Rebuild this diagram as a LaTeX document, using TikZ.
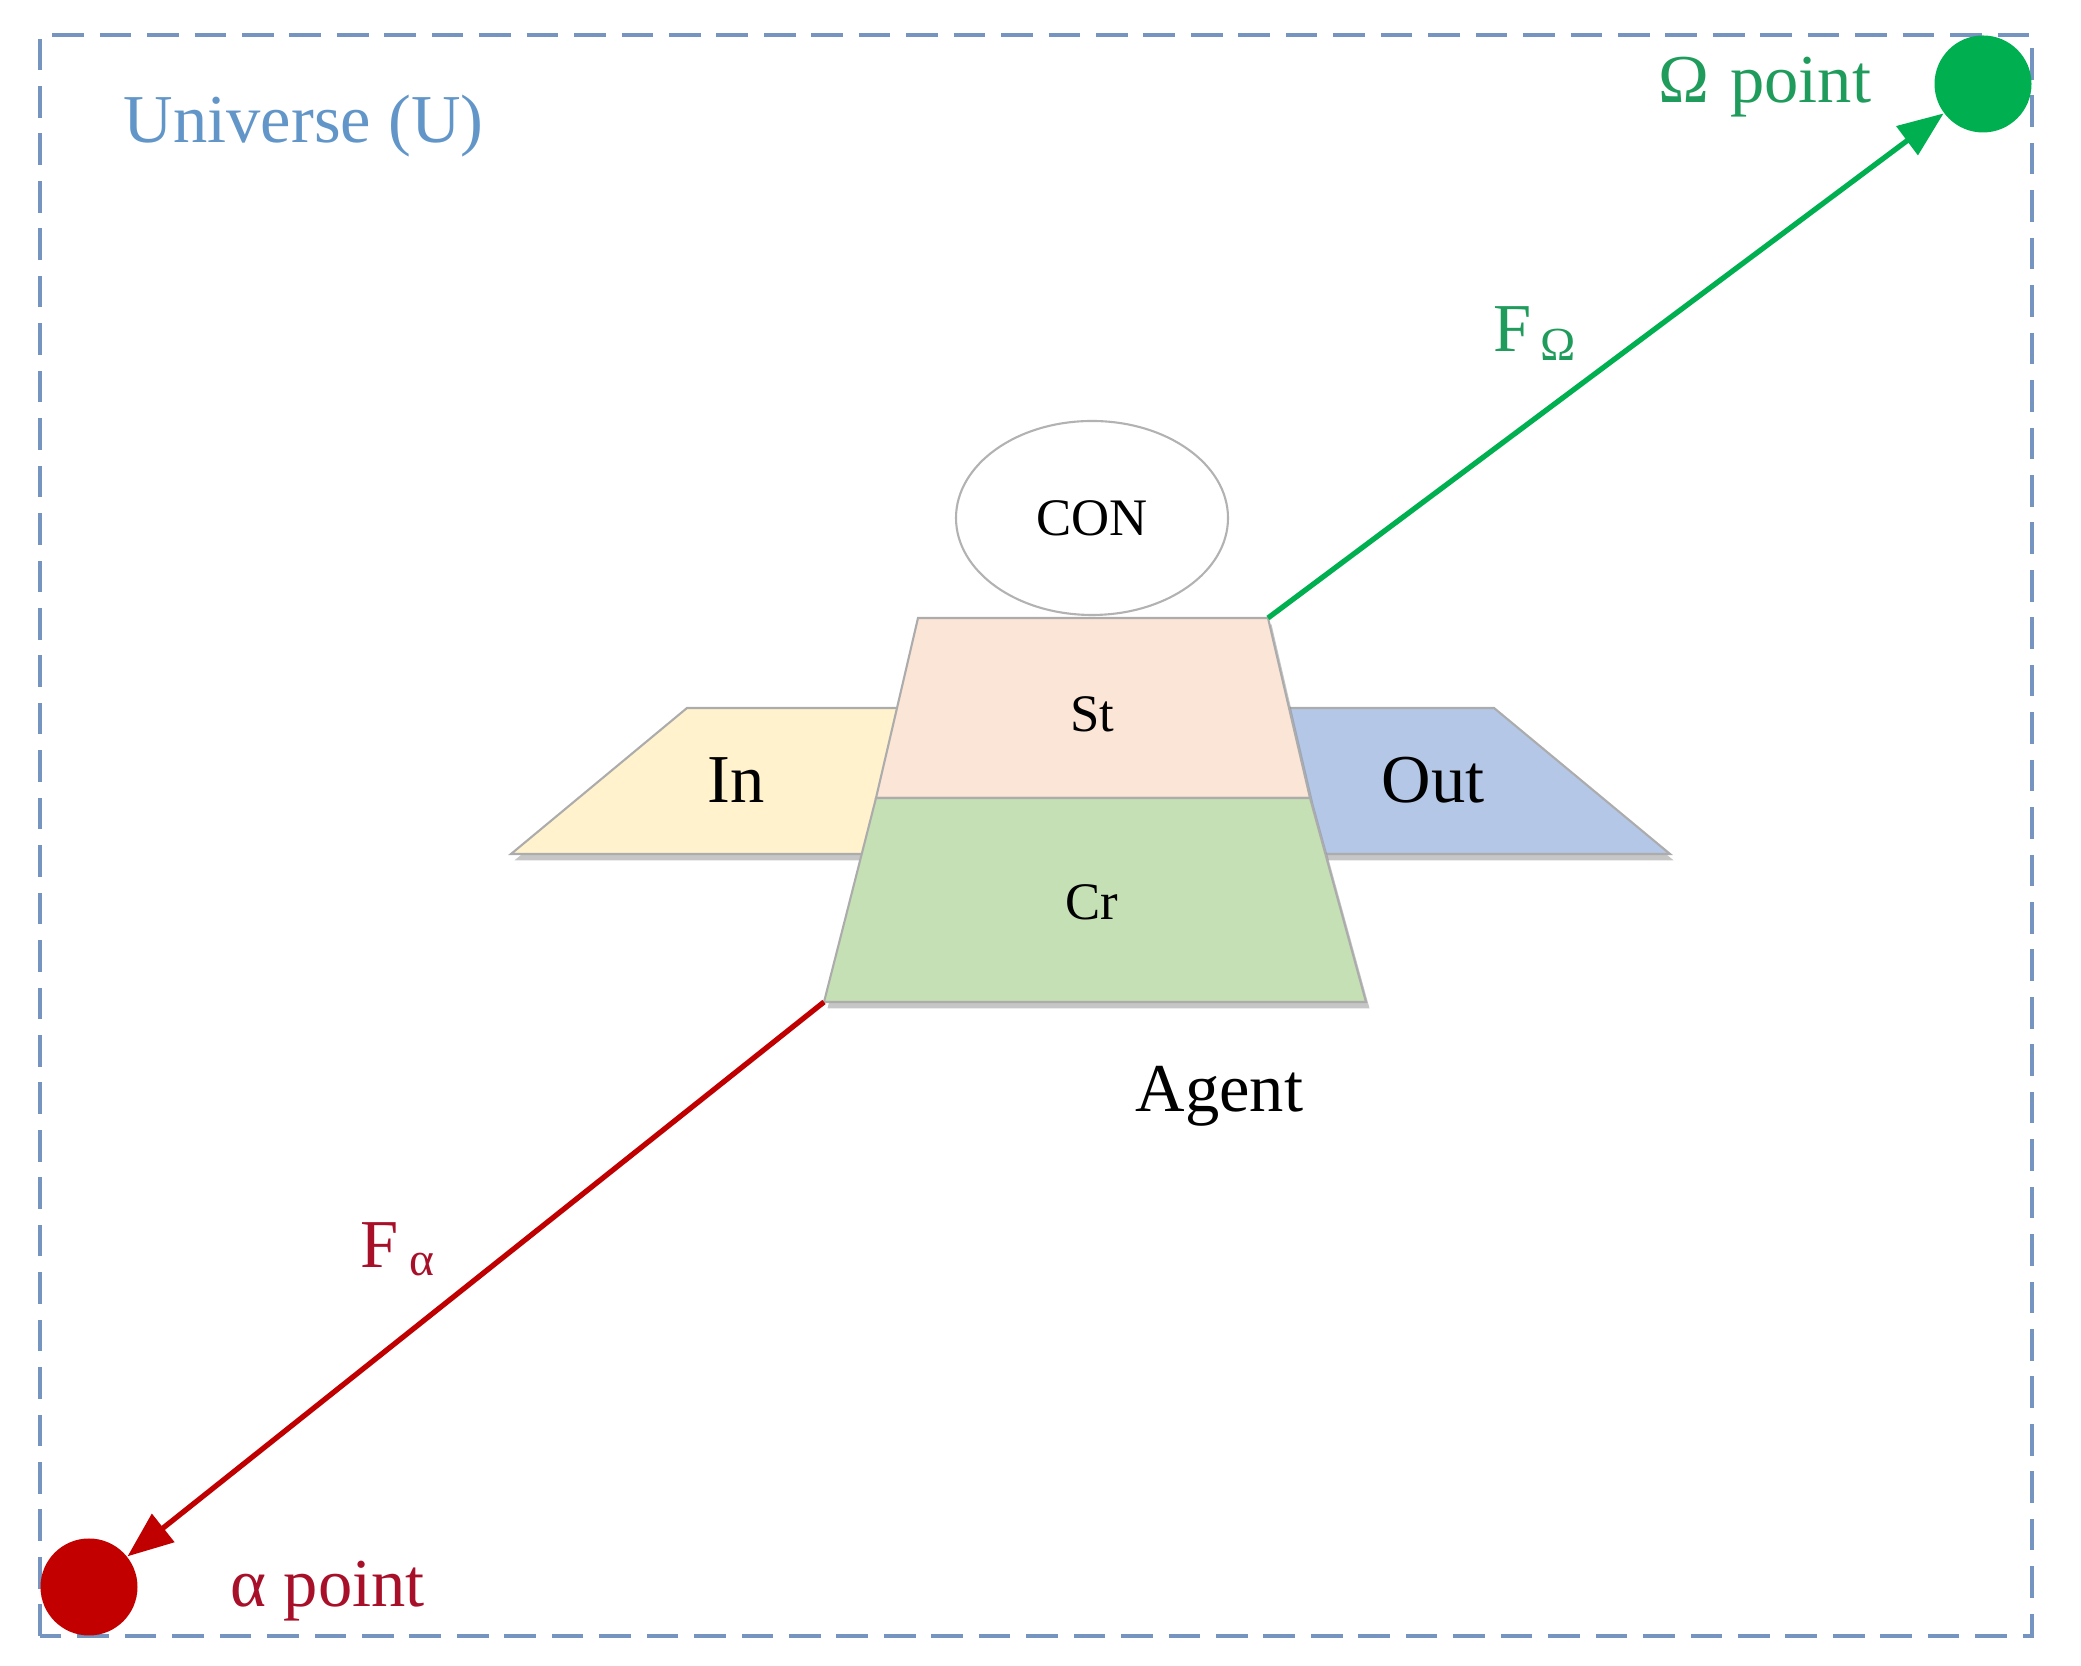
\documentclass[tikz,border=0pt]{standalone}
\usepackage{fontspec}
\setmainfont{Liberation Serif}
\usetikzlibrary{arrows.meta, shapes.geometric, shadows}

\definecolor{univline}{RGB}{118,148,192}
\definecolor{univtext}{RGB}{98,150,200}
\definecolor{inyel}{HTML}{FFF2CC}
\definecolor{stpeach}{HTML}{FBE5D6}
\definecolor{outblue}{HTML}{B4C7E7}
\definecolor{crgreen}{HTML}{C5E0B4}
\definecolor{omgreen}{HTML}{00B050}
\definecolor{omtext}{HTML}{1F9C5C}
\definecolor{alred}{HTML}{C00000}
\definecolor{altext}{HTML}{A8102A}

\begin{document}
\begin{tikzpicture}[
    frame/.style={draw=univline, line width=1.1pt, dash pattern=on 9pt off 4.5pt},
    part/.style={draw=gray!65, line width=0.6pt, drop shadow={shadow xshift=1pt, shadow yshift=-1.8pt, opacity=0.45}},
    lbl/.style={font=\fontsize{19.5}{22}\selectfont, inner sep=0pt},
    lblsm/.style={font=\fontsize{15}{18}\selectfont},
    endpt/.style={circle, inner sep=0pt, minimum size=0.97cm},
    flow/.style={line width=1.5pt, -{Triangle[length=13pt, width=10pt]}}
]
\useasboundingbox (0,0) rectangle (20.81,16.66);
% 1. Universe frame
\draw[frame] (0.40,0.30) rectangle (20.32,16.31);
\node[lbl, text=univtext, anchor=base west] (univ) at (1.23,15.23) {Universe (U)};
% 2. End points
\node[endpt, fill=omgreen] (omega) at (19.83,15.82) {};
\node[lbl, text=omtext, anchor=base west] (omlab) at (16.58,15.63) {Ω\hspace{0.3em}point};
\node[endpt, fill=alred!95!red] (alpha) at (0.89,0.79) {};
\node[lbl, text=altext, anchor=base west] (allab) at (2.30,0.59) {α point};
% 3. Wings of the agent
\filldraw[part, fill=inyel] (5.11,8.12) -- (6.87,9.58) -- (9.30,9.58) -- (9.00,8.12) -- cycle;
\filldraw[part, fill=outblue] (12.60,9.58) -- (14.94,9.58) -- (16.70,8.12) -- (12.90,8.12) -- cycle;
\node[lbl] (in) at (7.36,8.86) {In};
\node[lbl] (out) at (14.33,8.86) {Out};
% 4. Body of the agent
\filldraw[part, fill=stpeach] (8.76,8.68) -- (9.18,10.48) -- (12.68,10.48) -- (13.10,8.68) -- cycle;
\filldraw[part, fill=crgreen] (8.24,6.64) -- (8.76,8.68) -- (13.10,8.68) -- (13.66,6.64) -- cycle;
\coordinate (stNE) at (12.68,10.48);
\coordinate (crSW) at (8.24,6.64);
\node[lblsm] (st) at (10.92,9.52) {St};
\node[lblsm] (cr) at (10.92,7.64) {Cr};
\node[draw=gray!60, line width=0.6pt, ellipse, minimum width=2.72cm, minimum height=1.94cm, lblsm] (con) at (10.92,11.48) {CON};
\node[lbl, anchor=base west] (agent) at (11.35,5.54) {Agent};
% 5. Forces
\draw[flow, omgreen] (stNE) -- (omega);
\draw[flow, alred] (crSW) -- (alpha);
\node[lbl, text=omtext, anchor=base west] (fom) at (14.93,13.14) {F\hspace{2.5pt}\raisebox{-2.5pt}{\fontsize{13.5}{15}\selectfont Ω}};
\node[lbl, text=altext, anchor=base west] (fal) at (3.60,3.98) {F\hspace{3pt}\raisebox{-2pt}{\fontsize{13.5}{15}\selectfont α}};
\end{tikzpicture}
\end{document}
